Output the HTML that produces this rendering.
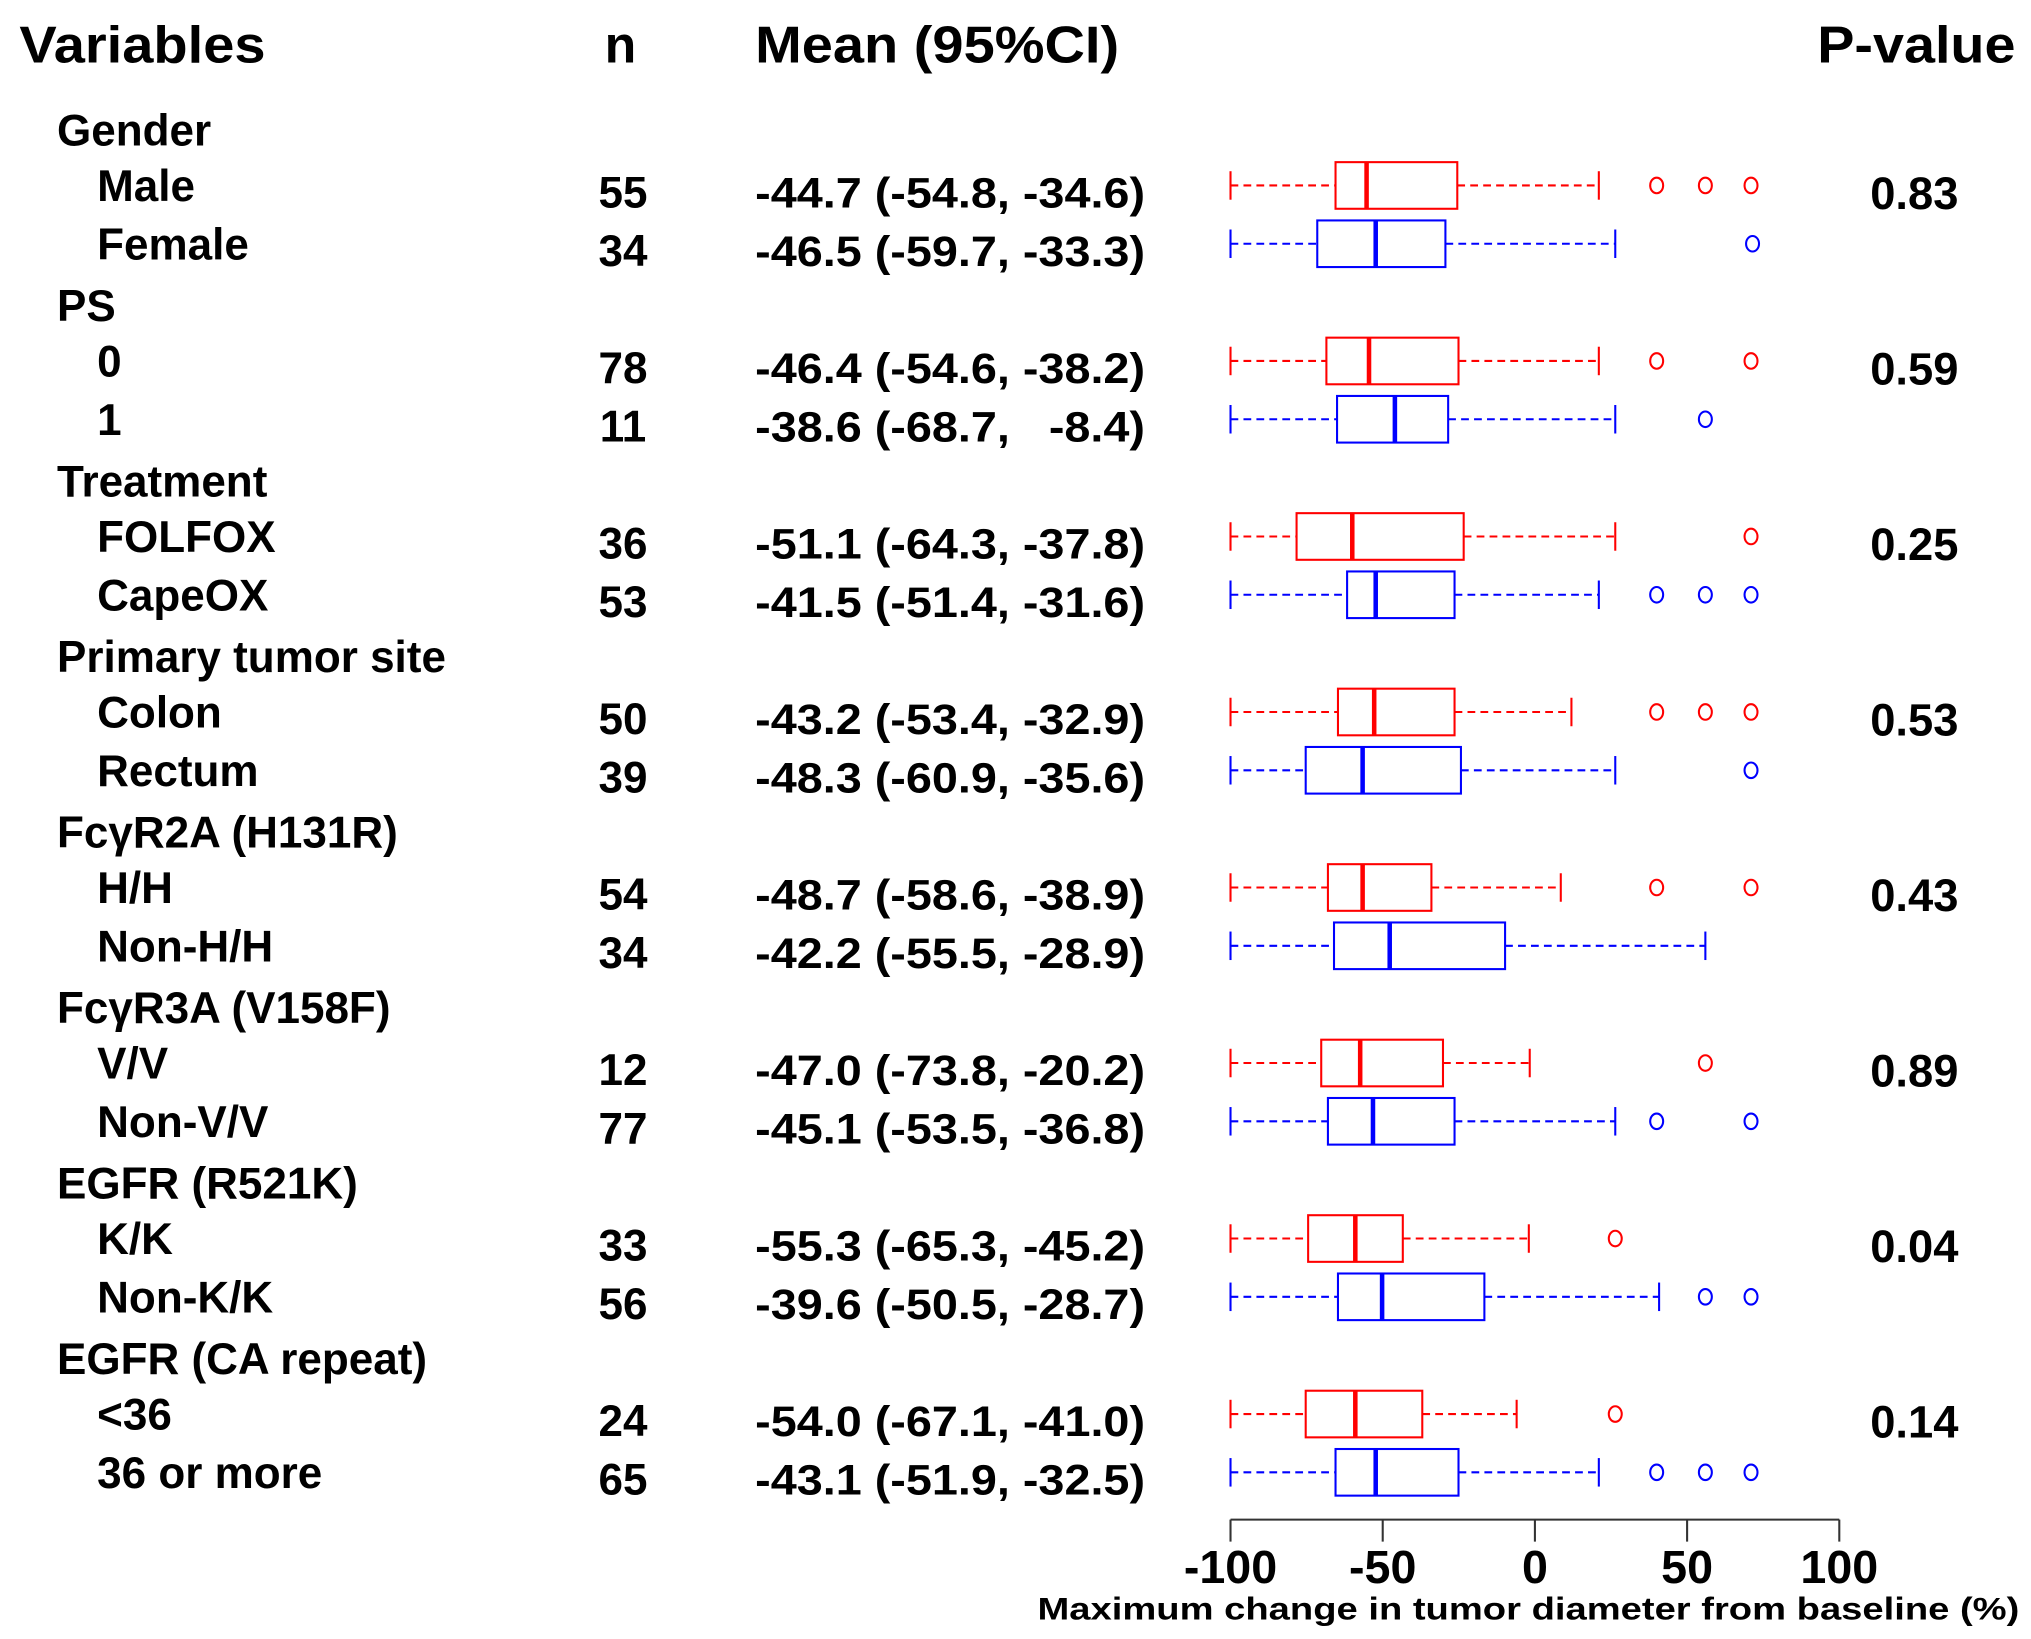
<!DOCTYPE html>
<html><head><meta charset="utf-8"><style>
html,body{margin:0;padding:0;background:#fff;}
svg{display:block;font-family:"Liberation Sans",Arial,sans-serif;font-weight:bold;}
</style></head><body>
<svg id="chart" width="2031" height="1639" viewBox="0 0 1568 1265" xmlns="http://www.w3.org/2000/svg">
<g id="hdr" font-size="40">
<text x="15" y="48" textLength="190" lengthAdjust="spacingAndGlyphs">Variables</text>
<text x="479" y="48" text-anchor="middle">n</text>
<text x="583" y="48" textLength="281" lengthAdjust="spacingAndGlyphs">Mean (95%CI)</text>
<text x="1403" y="48" textLength="153" lengthAdjust="spacingAndGlyphs">P-value</text>
</g>
<g id="rows"></g>
<g id="axis"></g>
</svg>
<script>
const groups = ["Gender","PS","Treatment","Primary tumor site","FcγR2A (H131R)","FcγR3A (V158F)","EGFR (R521K)","EGFR (CA repeat)"];
const labels = ["Male","Female","0","1","FOLFOX","CapeOX","Colon","Rectum","H/H","Non-H/H","V/V","Non-V/V","K/K","Non-K/K","<36","36 or more"];
const nValues = ["55","34","78","11","36","53","50","39","54","34","12","77","33","56","24","65"];
const meanCI = ["-44.7 (-54.8, -34.6)","-46.5 (-59.7, -33.3)","-46.4 (-54.6, -38.2)","-38.6 (-68.7,   -8.4)","-51.1 (-64.3, -37.8)","-41.5 (-51.4, -31.6)","-43.2 (-53.4, -32.9)","-48.3 (-60.9, -35.6)","-48.7 (-58.6, -38.9)","-42.2 (-55.5, -28.9)","-47.0 (-73.8, -20.2)","-45.1 (-53.5, -36.8)","-55.3 (-65.3, -45.2)","-39.6 (-50.5, -28.7)","-54.0 (-67.1, -41.0)","-43.1 (-51.9, -32.5)"];
const pValues = ["0.83","0.59","0.25","0.53","0.43","0.89","0.04","0.14"];
const whiskLo = [-100,-100,-100,-100,-100,-100,-100,-100,-100,-100,-100,-100,-100,-100,-100,-100];
const q1 = [-65.5,-71.5,-68.5,-65,-78.3,-61.7,-64.7,-75.3,-68,-66,-70.2,-68,-74.5,-64.7,-75.3,-65.5];
const median = [-55.3,-52.3,-54.5,-46,-60,-52.3,-52.8,-56.6,-56.6,-47.7,-57.4,-53.2,-59,-50.2,-59,-52.3];
const q3 = [-25.5,-29.4,-25.1,-28.5,-23.4,-26.4,-26.4,-24.3,-34,-9.8,-30.2,-26.4,-43.4,-16.6,-37,-25.1];
const whiskHi = [21,26.4,21,26.4,26.4,21,12,26.4,8.5,56,-1.7,26.4,-2,40.8,-6,21];
const outliers = [[40,56,71],[71.5],[40,71],[56],[71],[40,56,71],[40,56,71],[71],[40,71],[],[56],[40,71],[26.4],[56,71],[26.4],[40,56,71]];
const xTicks = [-100,-50,0,50,100];
const axisTitle = "Maximum change in tumor diameter from baseline (%)";

const NS="http://www.w3.org/2000/svg";
const X0=950, X1=1420, VMIN=-100, VMAX=100;
function xs(v){return X0+(v-VMIN)/(VMAX-VMIN)*(X1-X0);}
function rowY(i){return 143+Math.floor(i/2)*135.5+(i%2)*45;}
function mk(tag,attrs,parent,txt){const e=document.createElementNS(NS,tag);for(const k in attrs)e.setAttribute(k,attrs[k]);if(txt!==undefined)e.textContent=txt;parent.appendChild(e);return e;}
const rows=document.getElementById('rows');
groups.forEach((g,gi)=>{
  const t=mk('text',{x:44,y:112+gi*135.5,'font-size':34},rows,g);
  
  
  const p=mk('text',{x:1512,y:161+gi*135.5,'font-size':35,'text-anchor':'end'},rows,pValues[gi]);
  
  
});
labels.forEach((l,i)=>{
  const y=rowY(i), col=(i%2===0)?'#ff0000':'#0000ff';
  const g=mk('g',{},rows);
  
  
  const a=mk('text',{x:75,y:y+12,'font-size':34},g,l);
  
  
  const b=mk('text',{x:481,y:y+17,'font-size':34,'text-anchor':'middle'},g,nValues[i]);
  
  
  const c=mk('text',{x:884,y:y+17,'font-size':33,'text-anchor':'end',textLength:301,lengthAdjust:'spacingAndGlyphs'},g,meanCI[i]);
  c.setAttribute('style','white-space:pre');
  
  
  const bx=mk('g',{stroke:col,fill:'none','stroke-width':1.6},g);
  
  
  mk('line',{x1:xs(whiskLo[i]),x2:xs(q1[i]),y1:y,y2:y,'stroke-dasharray':'6,4'},bx);
  mk('line',{x1:xs(q3[i]),x2:xs(whiskHi[i]),y1:y,y2:y,'stroke-dasharray':'6,4'},bx);
  mk('line',{x1:xs(whiskLo[i]),x2:xs(whiskLo[i]),y1:y-11,y2:y+11},bx);
  mk('line',{x1:xs(whiskHi[i]),x2:xs(whiskHi[i]),y1:y-11,y2:y+11},bx);
  mk('rect',{x:xs(q1[i]),y:y-18,width:xs(q3[i])-xs(q1[i]),height:36},bx);
  mk('line',{x1:xs(median[i]),x2:xs(median[i]),y1:y-18,y2:y+18,'stroke-width':3.5},bx);
  outliers[i].forEach(o=>{
    const c2=mk('ellipse',{cx:xs(o),cy:y,rx:5,ry:6},bx);
    
    
  });
});
const ax=document.getElementById('axis');
mk('line',{x1:X0,x2:X1,y1:1173,y2:1173,stroke:'#333','stroke-width':1.6},ax);
xTicks.forEach(v=>{
  mk('line',{x1:xs(v),x2:xs(v),y1:1173,y2:1190,stroke:'#333','stroke-width':1.6},ax);
  const t=mk('text',{x:xs(v),y:1222,'font-size':36,'text-anchor':'middle'},ax,String(v));
  
  
});
const tt=mk('text',{x:1180,y:1250,'font-size':24,'text-anchor':'middle',textLength:758,lengthAdjust:'spacingAndGlyphs'},ax,axisTitle);


</script>
</body></html>
